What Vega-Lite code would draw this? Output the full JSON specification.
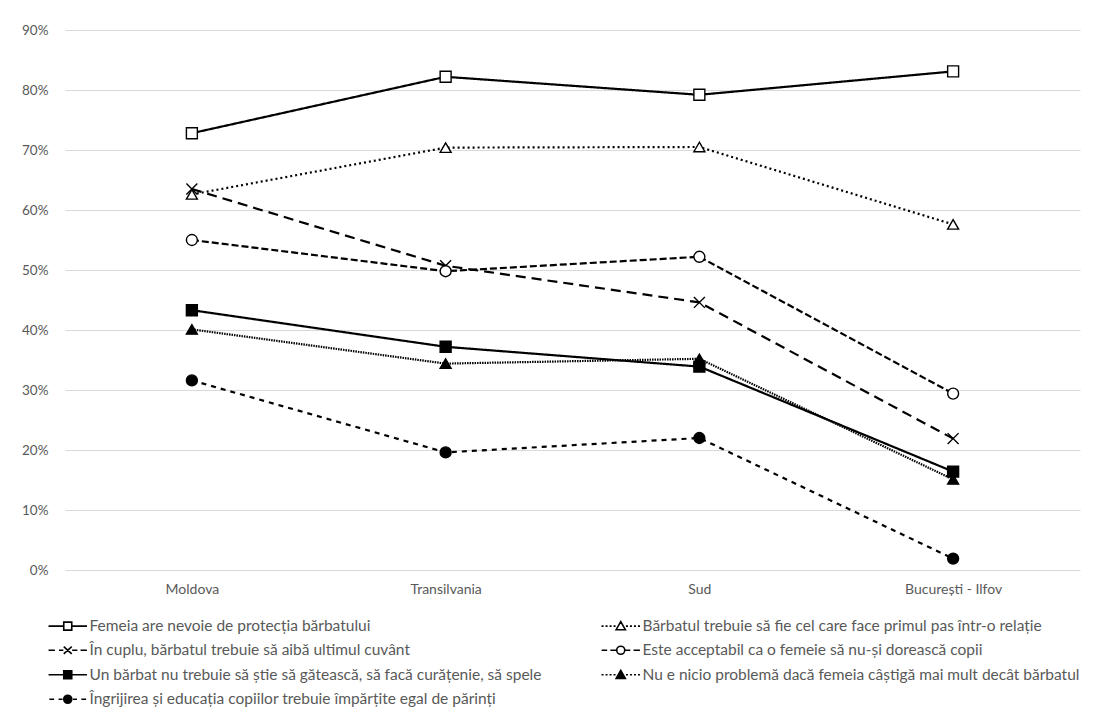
{
  "$schema": "https://vega.github.io/schema/vega-lite/v6.json",
  "width": 1015,
  "height": 540,
  "autosize": {"type": "none"},
  "padding": {"left": 65, "top": 30, "right": 17, "bottom": 153},
  "background": "white",
  "config": {"view": {"stroke": null}, "font": "Lato"},
  "data": {
    "values": [
      {"s": "Femeia are nevoie de protecția bărbatului", "r": "Moldova", "v": 0.728},
      {"s": "Femeia are nevoie de protecția bărbatului", "r": "Transilvania", "v": 0.822},
      {"s": "Femeia are nevoie de protecția bărbatului", "r": "Sud", "v": 0.792},
      {"s": "Femeia are nevoie de protecția bărbatului", "r": "București - Ilfov", "v": 0.831},
      {"s": "Bărbatul trebuie să fie cel care face primul pas într-o relație", "r": "Moldova", "v": 0.626},
      {"s": "Bărbatul trebuie să fie cel care face primul pas într-o relație", "r": "Transilvania", "v": 0.704},
      {"s": "Bărbatul trebuie să fie cel care face primul pas într-o relație", "r": "Sud", "v": 0.705},
      {"s": "Bărbatul trebuie să fie cel care face primul pas într-o relație", "r": "București - Ilfov", "v": 0.576},
      {"s": "În cuplu, bărbatul trebuie să aibă ultimul cuvânt", "r": "Moldova", "v": 0.635},
      {"s": "În cuplu, bărbatul trebuie să aibă ultimul cuvânt", "r": "Transilvania", "v": 0.507},
      {"s": "În cuplu, bărbatul trebuie să aibă ultimul cuvânt", "r": "Sud", "v": 0.446},
      {"s": "În cuplu, bărbatul trebuie să aibă ultimul cuvânt", "r": "București - Ilfov", "v": 0.219},
      {"s": "Este acceptabil ca o femeie să nu-și dorească copii", "r": "Moldova", "v": 0.550},
      {"s": "Este acceptabil ca o femeie să nu-și dorească copii", "r": "Transilvania", "v": 0.498},
      {"s": "Este acceptabil ca o femeie să nu-și dorească copii", "r": "Sud", "v": 0.522},
      {"s": "Este acceptabil ca o femeie să nu-și dorească copii", "r": "București - Ilfov", "v": 0.294},
      {"s": "Un bărbat nu trebuie să știe să gătească, să facă curățenie, să spele", "r": "Moldova", "v": 0.433},
      {"s": "Un bărbat nu trebuie să știe să gătească, să facă curățenie, să spele", "r": "Transilvania", "v": 0.372},
      {"s": "Un bărbat nu trebuie să știe să gătească, să facă curățenie, să spele", "r": "Sud", "v": 0.339},
      {"s": "Un bărbat nu trebuie să știe să gătească, să facă curățenie, să spele", "r": "București - Ilfov", "v": 0.164},
      {"s": "Nu e nicio problemă dacă femeia câștigă mai mult decât bărbatul", "r": "Moldova", "v": 0.401},
      {"s": "Nu e nicio problemă dacă femeia câștigă mai mult decât bărbatul", "r": "Transilvania", "v": 0.344},
      {"s": "Nu e nicio problemă dacă femeia câștigă mai mult decât bărbatul", "r": "Sud", "v": 0.352},
      {"s": "Nu e nicio problemă dacă femeia câștigă mai mult decât bărbatul", "r": "București - Ilfov", "v": 0.151},
      {"s": "Îngrijirea și educația copiilor trebuie împărțite egal de părinți", "r": "Moldova", "v": 0.316},
      {"s": "Îngrijirea și educația copiilor trebuie împărțite egal de părinți", "r": "Transilvania", "v": 0.196},
      {"s": "Îngrijirea și educația copiilor trebuie împărțite egal de părinți", "r": "Sud", "v": 0.220},
      {"s": "Îngrijirea și educația copiilor trebuie împărțite egal de părinți", "r": "București - Ilfov", "v": 0.019}
    ]
  },
  "encoding": {
    "x": {
      "field": "r", "type": "nominal", "sort": null,
      "scale": {"type": "point", "padding": 0.5, "domain": ["Moldova", "Transilvania", "Sud", "București - Ilfov"]},
      "axis": {"title": null, "labelAngle": 0, "ticks": false, "domain": false, "grid": false, "labelPadding": 12, "labelFontSize": 14, "labelColor": "#595959", "labelFont": "Lato"}
    },
    "y": {
      "field": "v", "type": "quantitative",
      "scale": {"domain": [0, 0.9], "nice": false},
      "axis": {"title": null, "values": [0, 0.1, 0.2, 0.3, 0.4, 0.5, 0.6, 0.7, 0.8, 0.9], "format": ".0%", "grid": true, "gridColor": "#d9d9d9", "gridWidth": 1.2, "domain": false, "ticks": false, "labelPadding": 17, "labelFontSize": 13.5, "labelColor": "#595959", "labelFont": "Lato"}
    }
  },
  "resolve": {
    "scale": {"shape": "independent", "fill": "independent"},
    "legend": {"shape": "independent", "fill": "independent"}
  },
  "layer": [
    {
      "mark": {"type": "line", "color": "black"},
      "encoding": {
        "detail": {"field": "s", "type": "nominal"},
        "strokeDash": {
          "field": "s", "type": "nominal", "sort": null, "legend": null,
          "scale": {"range": [[1, 0], [2, 3], [10, 6], [7, 3], [1, 0], [1.5, 1], [5, 5]]}
        },
        "strokeWidth": {
          "field": "s", "type": "ordinal", "sort": null, "legend": null,
          "scale": {"range": [2.2, 2.2, 2.6, 2.6, 1.8, 1.6, 2.4]}
        }
      }
    },
    {
      "mark": {"type": "point", "filled": true, "stroke": "black", "strokeWidth": 1.4, "size": 120, "opacity": 1},
      "encoding": {
        "shape": {
          "field": "s", "type": "nominal", "sort": null, "legend": null,
          "scale": {"range": ["square", "triangle-up", "M-1,-1L1,1M-1,1L1,-1", "circle", "square", "triangle-up", "circle"]}
        },
        "fill": {
          "field": "s", "type": "nominal", "sort": null, "legend": null,
          "scale": {"range": ["white", "white", "white", "white", "black", "black", "black"]}
        }
      }
    },
    {
      "mark": {"type": "point", "filled": true, "stroke": "black", "strokeWidth": 1.6, "size": 10, "opacity": 0},
      "encoding": {
        "shape": {
          "field": "s", "type": "nominal",
          "scale": {
            "domain": ["Femeia are nevoie de protecția bărbatului", "Bărbatul trebuie să fie cel care face primul pas într-o relație", "În cuplu, bărbatul trebuie să aibă ultimul cuvânt", "Este acceptabil ca o femeie să nu-și dorească copii", "Un bărbat nu trebuie să știe să gătească, să facă curățenie, să spele", "Nu e nicio problemă dacă femeia câștigă mai mult decât bărbatul", "Îngrijirea și educația copiilor trebuie împărțite egal de părinți"],
            "range": [
              "M-4.8,0H-1M1,0H4.8M-1,-1H1V1H-1Z",
              "M-4.8,0H-4.3M-3.8,0H-3.3M-2.8,0H-2.3M-1.8,0H-1.3M1.3,0H1.8M2.3,0H2.8M3.3,0H3.8M4.3,0H4.8M0,-1.1L1.15,0.9H-1.15Z",
              "M-4.8,0H-3.2M-2.2,0H-1.1M1.1,0H2.4M3.2,0H4.8M-1,-0.9L1,0.9M-1,0.9L1,-0.9",
              "M-4.8,0H-3.4M-2.6,0H-1.1M1.1,0H2.4M3.2,0H4.8M-1,0A1,1,0,1,1,1,0A1,1,0,1,1,-1,0Z",
              "M-4.8,0H-1M1,0H4.8M-1,-1H1V1H-1Z",
              "M-4.8,0H-4.3M-3.8,0H-3.3M-2.8,0H-2.3M-1.8,0H-1.3M1.3,0H1.8M2.3,0H2.8M3.3,0H3.8M4.3,0H4.8M0,-1.1L1.15,0.9H-1.15Z",
              "M-4.6,0H-3.4M-2.3,0H-1.3M1.3,0H2.3M3.4,0H4.6M-1,0A1,1,0,1,1,1,0A1,1,0,1,1,-1,0Z"
            ]
          },
          "legend": {
            "title": null,
            "orient": "none",
            "direction": "horizontal",
            "legendX": -5,
            "legendY": 588,
            "columns": 2,
            "columnPadding": 56,
            "rowPadding": 7.5,
            "padding": 0,
            "symbolSize": 64,
            "symbolOpacity": 1,
            "symbolStrokeWidth": 1.6,
            "labelOffset": 14,
            "labelFontSize": 15.5,
            "labelColor": "#595959",
            "labelFont": "Lato",
            "labelLimit": 600,
            "encode": {
              "symbols": {
                "stroke": {"value": "black"},
                "strokeWidth": {"value": 1.6},
                "strokeOpacity": {"value": 1}
              }
            }
          }
        },
        "fill": {
          "field": "s", "type": "nominal",
          "scale": {
            "domain": ["Femeia are nevoie de protecția bărbatului", "Bărbatul trebuie să fie cel care face primul pas într-o relație", "În cuplu, bărbatul trebuie să aibă ultimul cuvânt", "Este acceptabil ca o femeie să nu-și dorească copii", "Un bărbat nu trebuie să știe să gătească, să facă curățenie, să spele", "Nu e nicio problemă dacă femeia câștigă mai mult decât bărbatul", "Îngrijirea și educația copiilor trebuie împărțite egal de părinți"],
            "range": ["white", "white", "white", "white", "black", "black", "black"]
          }
        }
      }
    }
  ]
}
